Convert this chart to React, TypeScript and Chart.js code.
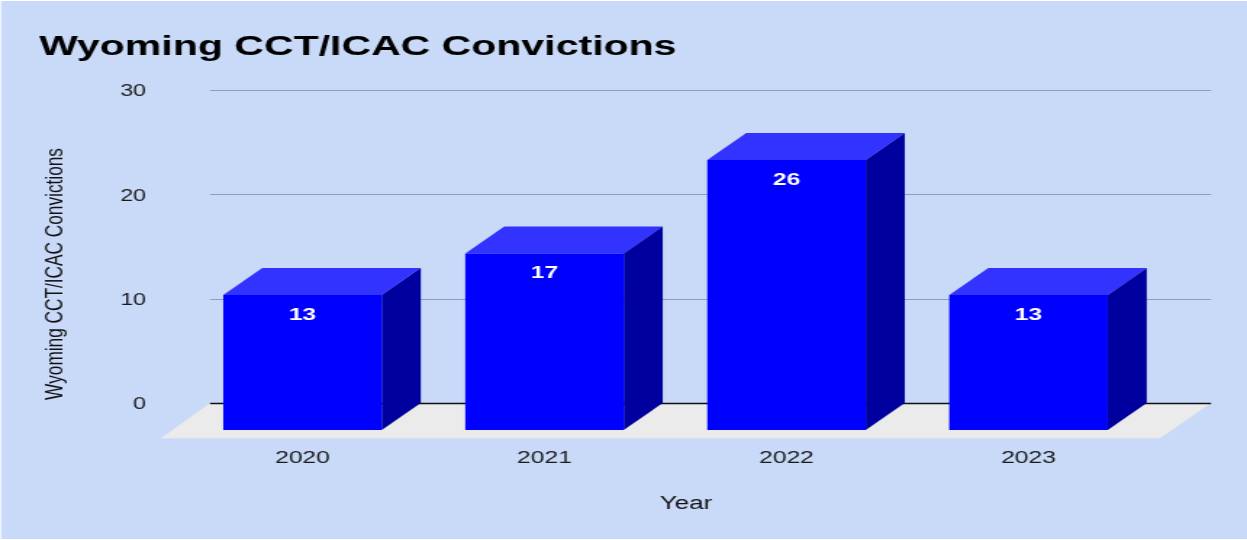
import React, { useEffect, useRef } from "react";
import { Chart, registerables } from "chart.js";

Chart.register(...registerables);

const years = ["2020", "2021", "2022", "2023"];
const convictions = [13, 17, 26, 13];
const yTicks = [0, 10, 20, 30];
const chartTitle = "Wyoming CCT/ICAC Convictions";
const yTitle = "Wyoming CCT/ICAC Convictions";
const xTitle = "Year";

// The reference is a horizontally stretched image; draw at a narrower logical width and stretch.
const SX = 1.45;
const W = 1247 / SX;
const H = 540;
const px = (v: number) => v / SX;

const FONT = "'Liberation Sans', Arial, sans-serif";
const DEPTH_X = px(39);
const DEPTH_Y = 27;

const threeD = {
  id: "threeD",
  beforeDraw(chart: any) {
    const { ctx } = chart;
    ctx.save();
    ctx.fillStyle = "#C9DAF8";
    ctx.fillRect(px(1), 1, W, H - 2);
    ctx.restore();
  },
  beforeDatasetsDraw(chart: any) {
    const { ctx, scales } = chart;
    const y = scales.y;
    const y0 = y.getPixelForValue(0);
    const left = px(210);
    const right = px(1211);
    ctx.save();
    // floor
    ctx.fillStyle = "#EBEBEB";
    ctx.beginPath();
    ctx.moveTo(left, y0);
    ctx.lineTo(right, y0);
    ctx.lineTo(px(1160), y0 + 35.3);
    ctx.lineTo(px(161), y0 + 35.3);
    ctx.closePath();
    ctx.fill();
    // grid lines on the back wall
    yTicks.forEach((t) => {
      const p = Math.round(y.getPixelForValue(t)) + 0.5;
      ctx.strokeStyle = t === 0 ? "#111111" : "#8F9DBD";
      ctx.lineWidth = t === 0 ? 1.4 : 1;
      ctx.beginPath();
      ctx.moveTo(left, p);
      ctx.lineTo(right, p);
      ctx.stroke();
    });
    // bar depth faces
    const meta = chart.getDatasetMeta(0);
    meta.data.forEach((bar: any) => {
      const xl = bar.x - bar.width / 2;
      const xr = bar.x + bar.width / 2;
      const top = bar.y;
      const base = bar.base;
      ctx.fillStyle = "#3333FF";
      ctx.beginPath();
      ctx.moveTo(xl, top + DEPTH_Y);
      ctx.lineTo(xl + DEPTH_X, top);
      ctx.lineTo(xr + DEPTH_X, top);
      ctx.lineTo(xr, top + DEPTH_Y);
      ctx.closePath();
      ctx.fill();
      ctx.fillStyle = "#00009F";
      ctx.beginPath();
      ctx.moveTo(xr, top + DEPTH_Y);
      ctx.lineTo(xr + DEPTH_X, top);
      ctx.lineTo(xr + DEPTH_X, base);
      ctx.lineTo(xr, base + DEPTH_Y);
      ctx.closePath();
      ctx.fill();
    });
    ctx.restore();
    // front faces are drawn by Chart.js, moved forward to the front of the floor
    ctx.save();
    ctx.translate(0, DEPTH_Y);
  },
  afterDatasetsDraw(chart: any) {
    const { ctx, scales } = chart;
    ctx.restore();
    ctx.save();
    // value labels
    const meta = chart.getDatasetMeta(0);
    ctx.fillStyle = "#FFFFFF";
    ctx.font = `bold 17px ${FONT}`;
    ctx.textAlign = "center";
    ctx.textBaseline = "middle";
    meta.data.forEach((bar: any, i: number) => {
      ctx.fillText(String(convictions[i]), bar.x, bar.y + DEPTH_Y + 20);
    });
    // axis titles, off-centre from the plot area as in the reference
    ctx.fillStyle = "#111111";
    ctx.font = `18px ${FONT}`;
    ctx.fillText(scales.x.options.title.text, px(686), 504);
    ctx.translate(px(56), 274);
    ctx.rotate(-Math.PI / 2);
    ctx.font = `17.25px ${FONT}`;
    ctx.fillText(scales.y.options.title.text, 0, 0);
    ctx.restore();
  },
};

export default function App() {
  const ref = useRef<HTMLCanvasElement>(null);
  useEffect(() => {
    const chart = new Chart(ref.current!, {
      type: "bar",
      data: {
        labels: years,
        datasets: [
          {
            data: convictions,
            yAxisID: "bars",
            backgroundColor: "#0000FF",
            borderWidth: 0,
            barPercentage: 1,
            categoryPercentage: 158.5 / 242,
            clip: false,
          } as any,
        ],
      },
      plugins: [threeD],
      options: {
        responsive: false,
        animation: false,
        devicePixelRatio: 1,
        layout: { padding: { left: px(39), right: px(1247 - 1149.5), top: 30, bottom: 0 } },
        plugins: {
          legend: { display: false },
          tooltip: { enabled: false },
          title: {
            display: true,
            text: chartTitle,
            align: "start",
            color: "#000000",
            font: { family: FONT, size: 28.3, weight: "bold", lineHeight: 1.2 },
            padding: { top: 0, bottom: 26 },
          },
        },
        scales: {
          x: {
            grid: { display: false, drawTicks: false },
            border: { display: false },
            title: { display: false, text: xTitle },
            ticks: { color: "#1A1A1A", font: { family: FONT, size: 17 }, padding: 45.5, maxRotation: 0 },
            afterFit: (s: any) => {
              s.height = H - 403;
            },
          },
          y: {
            min: 0,
            max: 30,
            grid: { display: false, drawTicks: false },
            border: { display: false },
            title: { display: false, text: yTitle },
            ticks: {
              stepSize: 10,
              color: "#1A1A1A",
              font: { family: FONT, size: 16 },
              padding: px(35.5),
              labelOffset: 2,
            },
            afterFit: (s: any) => {
              s.width = px(181.5 - 39);
            },
          },
          // bars rise slightly less per unit than the back wall's ticks in the reference
          bars: { display: false, min: 0, max: 30.15 },
        },
      } as any,
    });
    return () => chart.destroy();
  }, []);
  return (
    <div
      style={{
        position: "fixed",
        left: 0,
        top: 0,
        width: W,
        height: H,
        transform: `scaleX(${SX})`,
        transformOrigin: "0 0",
      }}
    >
      <canvas ref={ref} width={Math.round(W)} height={H} style={{ display: "block" }} />
    </div>
  );
}
